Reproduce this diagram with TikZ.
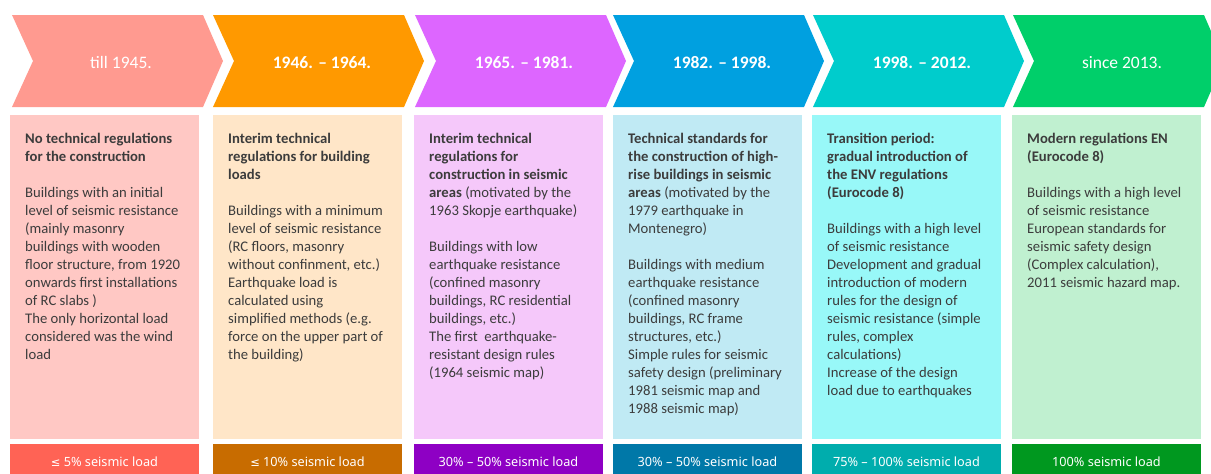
\documentclass[tikz,border=0pt]{standalone}
\usepackage{fontspec}
\setmainfont{Carlito}
\newfontfamily\barfont{Noto Sans}
\newfontfamily\symfont{DejaVu Sans}
\usepackage{xcolor}
\usetikzlibrary{positioning}
\definecolor{chevA}{HTML}{FF9A90}
\definecolor{chevB}{HTML}{FF9900}
\definecolor{chevC}{HTML}{DD66FF}
\definecolor{chevD}{HTML}{00A0E0}
\definecolor{chevE}{HTML}{00CCCC}
\definecolor{chevF}{HTML}{00CF6A}
\definecolor{boxA}{HTML}{FFC8C4}
\definecolor{boxB}{HTML}{FFE6C8}
\definecolor{boxC}{HTML}{F5C8FA}
\definecolor{boxD}{HTML}{C0EAF4}
\definecolor{boxE}{HTML}{98F8F8}
\definecolor{boxF}{HTML}{C0F0D0}
\definecolor{barA}{HTML}{FF6355}
\definecolor{barB}{HTML}{C86C00}
\definecolor{barC}{HTML}{8E00C4}
\definecolor{barD}{HTML}{0078A8}
\definecolor{barE}{HTML}{00ADAD}
\definecolor{barF}{HTML}{00981F}
\definecolor{textgray}{HTML}{3C3C3C}
\newcommand{\lesym}{{\symfont\fontsize{11.5}{15}\selectfont ≤}}
\tikzset{
	chevron/.pic={
			\fill[#1] (0,0) -- (191,0) -- (211,46) -- (191,92) -- (0,92) -- (21,46) -- cycle;
		},
	yearlabel/.style={anchor=base, text=white, inner sep=0pt, font=\fontsize{17.5}{21}\selectfont},
	infobox/.style={anchor=north west, minimum width=188.5pt, minimum height=324pt, inner sep=0pt},
	infotext/.style={inner sep=0pt, align=left, text=textgray, font=\fontsize{14.67}{18}\selectfont},
	loadbar/.style={minimum width=188.5pt, minimum height=36pt, inner sep=0pt, text=white, font=\barfont\fontsize{12.7}{15}\selectfont}
}

\begin{document}
\begin{tikzpicture}[x=1pt, y=-1pt]
	\useasboundingbox (0,0) rectangle (1211,474);

	% periods
	\pic at (12,15) {chevron=chevA};
	\pic at (213,15) {chevron=chevB};
	\pic at (415,15) {chevron=chevC};
	\pic at (613,15) {chevron=chevD};
	\pic at (813,15) {chevron=chevE};
	\pic at (1013,15) {chevron=chevF};
	\node[yearlabel] (y1) at (121,68) {till 1945.};
	\node[yearlabel] (y2) at (322,68) {\textbf{1946. – 1964.}};
	\node[yearlabel] (y3) at (524,68) {\textbf{1965. – 1981.}};
	\node[yearlabel] (y4) at (722,68) {\textbf{1982. – 1998.}};
	\node[yearlabel] (y5) at (922,68) {\textbf{1998. – 2012.}};
	\node[yearlabel] (y6) at (1122,68) {since 2013.};

	% regulations
	\node[infobox, fill=boxA] (b1) at (10,115) {};
	\node[infobox, fill=boxB] (b2) at (213,115) {};
	\node[infobox, fill=boxC] (b3) at (414,115) {};
	\node[infobox, fill=boxD] (b4) at (613,115) {};
	\node[infobox, fill=boxE] (b5) at (812,115) {};
	\node[infobox, fill=boxF] (b6) at (1012,115) {};

	\node[infotext, below right=18pt and 15pt of b1.north west] (t1) {
		\textbf{No technical regulations}\\
		\textbf{for the construction}\\[18pt]
		Buildings with an initial\\
		level of seismic resistance\\
		(mainly masonry\\
		buildings with wooden\\
		floor structure, from 1920\\
		onwards first installations\\
		of RC slabs )\\
		The only horizontal load\\
		considered was the wind\\
		load};
	\node[infotext, below right=18pt and 15pt of b2.north west] (t2) {
		\textbf{Interim technical}\\
		\textbf{regulations for building}\\
		\textbf{loads}\\[18pt]
		Buildings with a minimum\\
		level of seismic resistance\\
		(RC floors, masonry\\
		without confinment, etc.)\\
		Earthquake load is\\
		calculated using\\
		simplified methods (e.g.\\
		force on the upper part of\\
		the building)};
	\node[infotext, below right=18pt and 15pt of b3.north west] (t3) {
		\textbf{Interim technical}\\
		\textbf{regulations for}\\
		\textbf{construction in seismic}\\
		\textbf{areas} (motivated by the\\
		1963 Skopje earthquake)\\[18pt]
		Buildings with low\\
		earthquake resistance\\
		(confined masonry\\
		buildings, RC residential\\
		buildings, etc.)\\
		The first\ \ earthquake-\\
		resistant design rules\\
		(1964 seismic map)};
	\node[infotext, below right=18pt and 15pt of b4.north west] (t4) {
		\textbf{Technical standards for}\\
		\textbf{the construction of high-}\\
		\textbf{rise buildings in seismic}\\
		\textbf{areas} (motivated by the\\
		1979 earthquake in\\
		Montenegro)\\[18pt]
		Buildings with medium\\
		earthquake resistance\\
		(confined masonry\\
		buildings, RC frame\\
		structures, etc.)\\
		Simple rules for seismic\\
		safety design (preliminary\\
		1981 seismic map and\\
		1988 seismic map)};
	\node[infotext, below right=18pt and 15pt of b5.north west] (t5) {
		\textbf{Transition period:}\\
		\textbf{gradual introduction of}\\
		\textbf{the ENV regulations}\\
		\textbf{(Eurocode 8)}\\[18pt]
		Buildings with a high level\\
		of seismic resistance\\
		Development and gradual\\
		introduction of modern\\
		rules for the design of\\
		seismic resistance (simple\\
		rules, complex\\
		calculations)\\
		Increase of the design\\
		load due to earthquakes};
	\node[infotext, below right=18pt and 15pt of b6.north west] (t6) {
		\textbf{Modern regulations EN}\\
		\textbf{(Eurocode 8)}\\[18pt]
		Buildings with a high level\\
		of seismic resistance\\
		European standards for\\
		seismic safety design\\
		(Complex calculation),\\
		2011 seismic hazard map.};

	% seismic load
	\node[loadbar, fill=barA, below=4pt of b1] (l1) {\lesym{} 5\% seismic load};
	\node[loadbar, fill=barB, below=4pt of b2] (l2) {\lesym{} 10\% seismic load};
	\node[loadbar, fill=barC, below=4pt of b3] (l3) {30\% – 50\% seismic load};
	\node[loadbar, fill=barD, below=4pt of b4] (l4) {30\% – 50\% seismic load};
	\node[loadbar, fill=barE, below=4pt of b5] (l5) {75\% – 100\% seismic load};
	\node[loadbar, fill=barF, below=4pt of b6] (l6) {100\% seismic load};
\end{tikzpicture}
\end{document}
